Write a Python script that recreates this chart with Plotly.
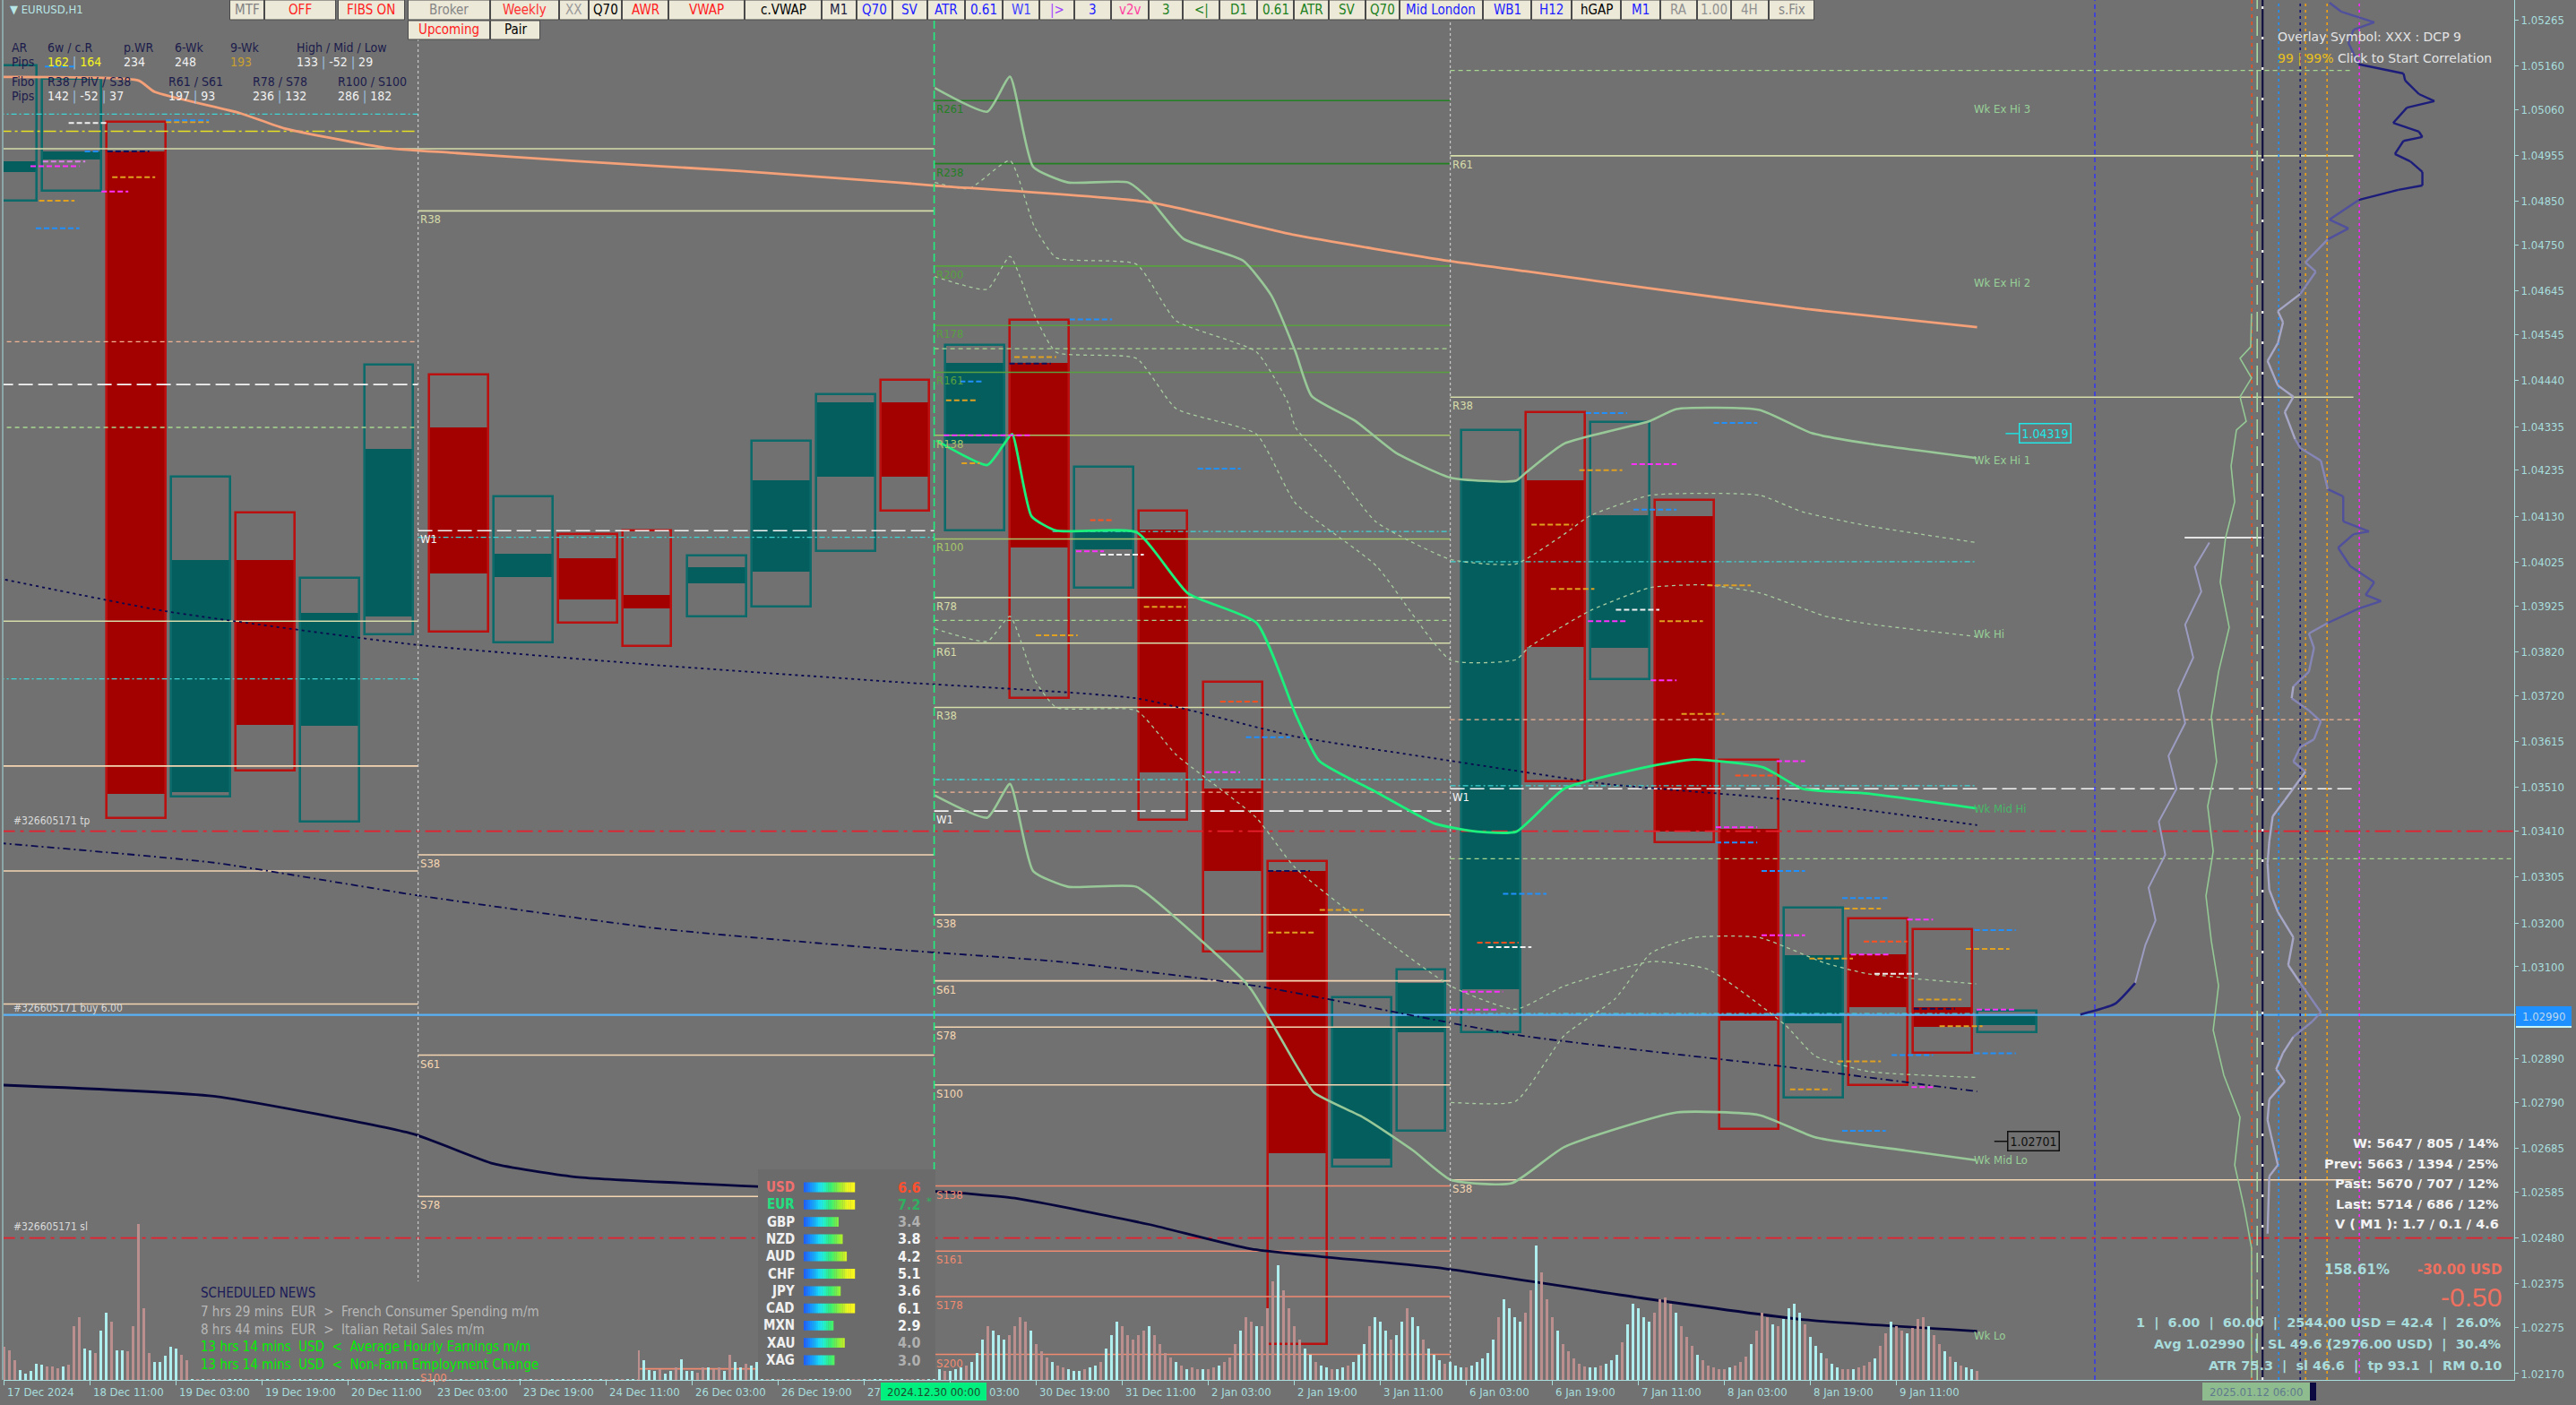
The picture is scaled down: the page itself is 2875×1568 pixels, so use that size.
import plotly.graph_objects as go

# ============================ DATA ============================
symbol_title = "\u25bc EURUSD,H1"

price_labels = ["1.05265", "1.05160", "1.05060", "1.04955", "1.04850", "1.04750",
                "1.04645", "1.04545", "1.04440", "1.04335", "1.04235", "1.04130",
                "1.04025", "1.03925", "1.03820", "1.03720", "1.03615", "1.03510",
                "1.03410", "1.03305", "1.03200", "1.03100", "1.02990", "1.02890",
                "1.02790", "1.02685", "1.02585", "1.02480", "1.02375", "1.02275", "1.02170"]

# visible time-axis texts (one every 16 H1 bars; two are partly covered by the highlight box)
time_labels = ["17 Dec 2024", "18 Dec 11:00", "19 Dec 03:00", "19 Dec 19:00", "20 Dec 11:00",
               "23 Dec 03:00", "23 Dec 19:00", "24 Dec 11:00", "26 Dec 03:00", "26 Dec 19:00",
               "27", "03:00", "30 Dec 19:00", "31 Dec 11:00", "2 Jan 03:00",
               "2 Jan 19:00", "3 Jan 11:00", "6 Jan 03:00", "6 Jan 19:00", "7 Jan 11:00",
               "8 Jan 03:00", "8 Jan 19:00", "9 Jan 11:00"]
BARS_PER_LABEL = 16
highlight_time = "2024.12.30 00:00"
cursor_time = "2025.01.12 06:00"

# H12 boxes on the H1 bar axis (first bar, last bar) with OHLC
box_start = [-5, 7, 19, 31, 43, 55, 67, 79, 91, 103, 115, 127, 139, 151, 163, 175,
             187, 199, 211, 223, 235, 247, 259, 271, 283, 295, 307, 319, 331, 343, 355, 367]
box_end = [6, 18, 30, 42, 54, 66, 76, 90, 102, 114, 124, 138, 150, 162, 172, 186,
           198, 210, 220, 234, 246, 258, 268, 282, 294, 306, 318, 330, 342, 354, 366, 378]
box_open = [1.04916, 1.04946, 1.04964, 1.03500, 1.04029, 1.03650, 1.03901, 1.04333,
            1.03991, 1.04033, 1.03950, 1.03976, 1.04003, 1.04221, 1.04390, 1.04296,
            1.04480, 1.04055, 1.04100, 1.03507, 1.03319, 1.02661, 1.02951, 1.03048,
            1.04213, 1.03830, 1.04130, 1.03415, 1.02970, 1.03128, 1.03007, 1.02966]
box_high = [1.05160, 1.05130, 1.05032, 1.04221, 1.04138, 1.03988, 1.04476, 1.04454,
            1.04176, 1.04089, 1.04097, 1.04040, 1.04303, 1.04408, 1.04442, 1.04521,
            1.04579, 1.04243, 1.04142, 1.03751, 1.03341, 1.03030, 1.03094, 1.04326,
            1.04367, 1.04345, 1.04168, 1.03573, 1.03236, 1.03210, 1.03185, 1.02999]
box_low = [1.04852, 1.04874, 1.03439, 1.03490, 1.03548, 1.03432, 1.03860, 1.03867,
           1.03841, 1.03886, 1.03834, 1.03901, 1.03924, 1.04051, 1.04142, 1.04097,
           1.03715, 1.03966, 1.03435, 1.03135, 1.02237, 1.02643, 1.02725, 1.02951,
           1.03523, 1.03758, 1.03385, 1.02729, 1.02800, 1.02830, 1.02903, 1.02951]
box_close = [1.04942, 1.04964, 1.03496, 1.04029, 1.03653, 1.03909, 1.04284, 1.03999,
             1.04044, 1.03939, 1.03920, 1.04014, 1.04213, 1.04390, 1.04221, 1.04480,
             1.04059, 1.04095, 1.03545, 1.03319, 1.02673, 1.02962, 1.03063, 1.04213,
             1.03831, 1.04132, 1.03409, 1.02977, 1.03127, 1.03007, 1.02962, 1.02990]

# H1 tick volume per trading day
vol_17dec = [1850, 1650, 1100, 550, 350]
vol_18dec = [500, 900, 850, 750, 750, 650, 750, 850, 3000, 3500, 1750, 1650, 1500, 2750, 3750, 3250, 1650, 1650, 1600, 3000, 8700, 4000, 1500, 1000]
vol_19dec = [1000, 1350, 1850, 1750, 1400, 1100, 1100, 1200, 1800, 2600, 3000, 2800, 2500, 2300, 2400, 2800, 3200, 2900, 2500, 2000, 1700, 1400, 1100, 900]
vol_20dec = [800, 600, 500, 500, 600, 700, 800, 900, 1500, 2200, 2600, 2400, 2100, 2000, 2200, 2600, 3000, 2800, 2300, 1900, 1600, 1300, 1000, 700]
vol_23dec = [400, 400, 350, 350, 400, 500, 600, 700, 1100, 1500, 1700, 1600, 1400, 1300, 1400, 1600, 1800, 1600, 1400, 1100, 900, 700, 600, 500]
vol_24dec = [300, 300, 300, 300, 300, 400, 400, 500, 700, 900, 1000, 900, 800, 700, 700, 800, 700, 1650, 1100, 550, 500, 600, 350, 500]
vol_26dec = [700, 1150, 500, 500, 400, 700, 700, 600, 700, 500, 1400, 1000, 700, 900, 800, 1000, 1500, 1400, 1200, 1000, 800, 600, 500, 400]
vol_27dec = [300, 300, 300, 300, 350, 400, 500, 600, 900, 1200, 1400, 1300, 1100, 1000, 1100, 1300, 1500, 1300, 1100, 900, 700, 600, 500, 400]
vol_30dec = [700, 600, 500, 500, 600, 700, 800, 1000, 1500, 2250, 3000, 2750, 2500, 2250, 2500, 3000, 3500, 3250, 2750, 2000, 1600, 1250, 1000, 800]
vol_31dec = [700, 600, 500, 500, 600, 700, 800, 1000, 1750, 2500, 3250, 3000, 2500, 2250, 2500, 2750, 3000, 2500, 2000, 1500, 1250, 1000, 800, 600]
vol_02jan = [700, 600, 600, 600, 700, 800, 1000, 1250, 2000, 2750, 3500, 3250, 3000, 3000, 4000, 5500, 6400, 5000, 4000, 3000, 2250, 1750, 1400, 1000]
vol_03jan = [800, 700, 600, 600, 700, 800, 1000, 1400, 2000, 3000, 3500, 3250, 2750, 2250, 2500, 3250, 4000, 3500, 3000, 2250, 1750, 1400, 1100, 900]
vol_06jan = [1000, 800, 700, 700, 800, 1000, 1200, 1500, 2250, 3500, 4500, 4000, 3500, 3250, 3750, 5000, 7500, 6000, 4500, 3500, 2750, 2000, 1600, 1200]
vol_07jan = [900, 750, 700, 700, 800, 900, 1100, 1400, 2100, 3100, 4250, 4000, 3500, 3250, 3750, 4500, 4600, 4250, 3750, 3000, 2400, 1900, 1400, 1100]
vol_08jan = [800, 700, 600, 600, 700, 800, 1000, 1300, 2000, 2750, 3750, 3500, 3100, 3000, 3400, 4000, 4250, 3750, 3100, 2400, 1900, 1500, 1200, 900]
vol_09jan = [700, 600, 600, 600, 700, 800, 1000, 1200, 1900, 2600, 3250, 3000, 2750, 2600, 2900, 3400, 3500, 3000, 2500, 2000, 1600, 1300, 1000, 800]
vol_10jan = [700, 600, 500]
volume = (vol_17dec + vol_18dec + vol_19dec + vol_20dec + vol_23dec + vol_24dec + vol_26dec +
          vol_27dec + vol_30dec + vol_31dec + vol_02jan + vol_03jan + vol_06jan + vol_07jan +
          vol_08jan + vol_09jan + vol_10jan)
# c = up bar (pale turquoise), r = down bar (rosy brown)
volume_dir = ("rrrcc" + "cccrrrcrrrccrccrccrrrrrc" + "ccccrr" + "crcrcrrcccrrcrcrcr" +
              "rccrcrccrccrcrrcrccrcrcc" + "crrcrcrrcrrcrcrrcrrcrcrr" + "rcrcrcrccrcrrcrcc" + "rcccrcc" +
              "rcccrrcrrcrccrcc" + "crcrcrcr" + "rccrcrcrcrrcrccrcrcrrcrc" +
              "ccrcccrcccrcccrrrrcrrrcr" + "rcccrccrcccrrrrrcrrrrcrc" + "rrcrrcrrrcrrcrrrcrrrrccr" +
              "ccrccrcccrcccrccrccrcccr" + "cccrcccccrccccrrcrrrcrrr" + "rrccrcccrcccccrrrrcrrrcr" +
              "rrrrcrrrcrrrcrccccrcccrc" + "crrcrrrcrrcrrcrrrcrrcrcr" + "ccr")

# slow moving average (salmon)
ma_slow_bar = [-1, 25, 28, 44, 52, 71, 83, 106, 137, 166, 173, 213, 240, 269, 283, 305, 335, 367]
ma_slow_price = [1.05134, 1.05126, 1.05100, 1.05051, 1.05017, 1.04972, 1.04961, 1.04942, 1.04919,
                 1.04893, 1.04886, 1.04848, 1.04773, 1.04713, 1.04690, 1.04653, 1.04604, 1.04562]
# dark navy long average
ma_navy_bar = [-1, 39, 76, 91, 106, 140, 174, 188, 213, 232, 268, 305, 335, 367]
ma_navy_price = [1.02830, 1.02804, 1.02718, 1.02650, 1.02620, 1.02598, 1.02586, 1.02571,
                 1.02511, 1.02455, 1.02410, 1.02342, 1.02293, 1.02267]
# navy dotted average
ma_dot_bar = [-1, 30, 76, 122, 166, 211, 240, 269, 298, 330, 367]
ma_dot_price = [1.03988, 1.03913, 1.03837, 1.03789, 1.03751, 1.03713, 1.03627, 1.03571,
                1.03518, 1.03484, 1.03424]
# navy dash-dot average
ma_dd_bar = [-1, 39, 77, 122, 166, 196, 233, 282, 331, 367]
ma_dd_price = [1.03383, 1.03338, 1.03263, 1.03187, 1.03139, 1.03112, 1.03056, 1.02943, 1.02872, 1.02815]
# bright green weekly mid line
mid_bar = [173.4, 182.9, 185.6, 187.5, 191.1, 195.7, 210.7, 220.2, 233, 240.4, 244.6, 255.3, 266,
           274, 281.3, 290.2, 306.4, 314.3, 327.2, 334.5, 346.7, 366.9]
mid_price = [1.04303, 1.04247, 1.04288, 1.04318, 1.04130, 1.04097, 1.04093, 1.03954, 1.03886,
             1.03672, 1.03571, 1.03499, 1.03428, 1.03409, 1.03409, 1.03507, 1.03559, 1.03574,
             1.03556, 1.03507, 1.03496, 1.03462]
# pale green solid envelope (upper: Wk Ex Hi 1, lower: Wk Mid Lo)
env_up_bar = [173.1, 182.9, 187.1, 191.4, 197.9, 209.1, 213.4, 219.4, 230.5, 235.7, 240.2, 243.2,
              251.3, 258.9, 269.1, 281.2, 283.3, 290.2, 306.2, 311.1, 326.5, 336.2, 346.7, 366.9]
env_up_price = [1.05109, 1.05055, 1.05135, 1.04929, 1.04893, 1.04893, 1.04850, 1.04764, 1.04714,
                1.04635, 1.04506, 1.04405, 1.04348, 1.04275, 1.04218, 1.04211, 1.04232, 1.04296,
                1.04348, 1.04375, 1.04373, 1.04320, 1.04296, 1.04263]
env_lo_bar = [173.1, 182.9, 187.1, 191.4, 197.9, 210.6, 218.0, 231.5, 240.7, 243.7, 252.9, 262.1,
              269.1, 280.4, 290.2, 311.1, 326.5, 336.9, 353.7, 366.8]
env_lo_price = [1.03492, 1.03441, 1.03518, 1.03319, 1.03283, 1.03283, 1.03211, 1.03056, 1.02868,
                1.02812, 1.02755, 1.02680, 1.02613, 1.02605, 1.02688, 1.02767, 1.02761, 1.02710,
                1.02680, 1.02658]
# pale green dashed bands
band1_bar = [173.1, 179.5, 187.1, 191.6, 195.7, 210.6, 218.0, 232.9, 238.8, 240.2, 247.7, 255.2,
             269.1, 281.2, 290.2, 295.0, 306.3, 326.5, 334.5, 346.7, 366.8]
band1_price = [1.04893, 1.04879, 1.04943, 1.04793, 1.04721, 1.04706, 1.04577, 1.04506, 1.04390,
               1.04333, 1.04232, 1.04117, 1.04031, 1.04021, 1.04089, 1.04131, 1.04178, 1.04178,
               1.04140, 1.04108, 1.04070]
band2_bar = [173.1, 182.9, 187.1, 191.6, 195.7, 210.6, 218.0, 232.9, 240.2, 255.2, 269.1, 281.2,
             283.7, 295.0, 306.3, 316.8, 326.5, 338.6, 346.7, 366.8]
band2_price = [1.04678, 1.04649, 1.04724, 1.04591, 1.04505, 1.04491, 1.04376, 1.04318, 1.04160,
               1.04017, 1.03801, 1.03802, 1.03831, 1.03914, 1.03967, 1.03973, 1.03955, 1.03902,
               1.03884, 1.03855]
band3_bar = [173.1, 182.9, 187.1, 191.6, 195.7, 210.6, 218.0, 232.9, 240.2, 269.1, 281.2, 290.2,
             306.4, 317.0, 331.3, 336.9, 346.7, 366.8]
band3_price = [1.03873, 1.03844, 1.03901, 1.03758, 1.03693, 1.03686, 1.03585, 1.03441, 1.03326,
               1.03056, 1.03003, 1.03056, 1.03112, 1.03094, 1.02967, 1.02896, 1.02861, 1.02847]
band4_bar = [269.1, 281.2, 290.2, 299.6, 306.3, 314.3, 326.5, 338.6, 346.7, 366.8]
band4_price = [1.02790, 1.02793, 1.02943, 1.03026, 1.03131, 1.03167, 1.03167, 1.03109, 1.03084, 1.03061]

# horizontal levels: price, first bar, last bar, style, label
lvl_price = [1.05049, 1.05010, 1.04970, 1.04529, 1.04431, 1.04333, 1.03890, 1.03758, 1.03559, 1.03319, 1.03015,
             1.04828, 1.04097, 1.04082, 1.03356, 1.02898, 1.02575, 1.02181,
             1.05080, 1.04936, 1.04702, 1.04566, 1.04459, 1.04315, 1.04078, 1.03944, 1.03840, 1.03693,
             1.03456, 1.03219, 1.03068, 1.02962, 1.02830, 1.02599, 1.02450, 1.02346, 1.02214,
             1.04513, 1.03892, 1.04095, 1.03528, 1.03499,
             1.05149, 1.04954, 1.04402, 1.04026, 1.03665, 1.03514, 1.03507, 1.03347, 1.02993, 1.02613,
             1.03410, 1.02480, 1.02990, 1.04081]
lvl_from = [-1, -1, -1, -1, -1, -1, -1, -1, -1, -1, -1,
            77, 77, 77, 77, 77, 77, 77,
            173, 173, 173, 173, 173, 173, 173, 173, 173, 173, 173, 173, 173, 173, 173, 173, 173, 173, 173,
            173, 173, 195, 173, 173,
            269, 269, 269, 269, 269, 269, 269, 269, 269, 269,
            -1, -1, -1, 405.6]
lvl_to = [77, 77, 173, 77, 77, 77, 77, 77, 77, 77, 77,
          173, 173, 173, 173, 173, 173, 173,
          269, 269, 269, 269, 269, 269, 269, 269, 269, 269, 269, 269, 269, 269, 269, 269, 269, 269, 269,
          269, 269, 269, 269, 269,
          437, 437, 437, 367, 438, 367, 437, 467, 367, 437,
          467, 467, 467, 420.4]
lvl_style = ["cyan_dd", "yellow_dd", "pale", "peach_dash", "white_ld", "green_dash", "pale", "cyan_dd", "wheat", "wheat", "wheat",
             "pale", "white_ld", "cyan_dd", "wheat", "wheat", "wheat", "salmon",
             "green_dk", "green_dk", "green", "green", "green", "olive", "olive", "pale", "pale", "pale",
             "white_ld", "wheat", "wheat", "wheat", "wheat", "salmon", "salmon", "salmon", "salmon",
             "green_dash", "green_dash", "cyan_dd", "cyan_dd", "peach_dash",
             "green_dash", "pale", "pale", "cyan_dd", "peach_dash", "cyan_dd", "white_ld", "green_dash", "cyan_dd", "wheat",
             "red_dd", "red_dd", "price", "poc"]
lvl_label = ["", "", "", "", "", "", "", "", "", "", "",
             "R38", "W1", "", "S38", "S61", "S78", "S100",
             "R261", "R238", "R200", "R178", "R161", "R138", "R100", "R78", "R61", "R38",
             "W1", "S38", "S61", "S78", "S100", "S138", "S161", "S178", "S200",
             "", "", "", "", "",
             "", "R61", "R38", "", "", "", "W1", "", "", "S38",
             "", "", "", ""]

# short H12 marker dashes: first bar, last bar, price, colour key
sd_x0 = [12, 30.1, 30.1, 7.2, 4.9, 15, 19.2, 20.1, 18.1, 6.5, 5.9, 7.6,
         175.2, 177.8, 198.2, 187.9, 187, 174.8, 178.1, 203.9, 199.4, 202, 212, 191.9, 222, 223.6, 231, 226.2, 244.7, 235.1, 235.1,
         294.2, 318, 293, 302.7, 303.1, 284.1, 287.7, 299.8, 294.6, 307.9, 316.8, 306.3, 312, 322, 329.7, 318.4, 318.4, 326.9,
         278.8, 274, 276, 271.2, 269.1, 341.9, 342.3, 326.9, 345.9, 343.5, 347.9, 354, 366.5, 364.9, 356, 355.2, 366.9, 360,
         366.5, 335.8, 351.1, 341.1, 332.2, 341.9, 354.8]
sd_x1 = [19.2, 38.1, 38.1, 15.1, 14, 17.6, 27, 28.1, 23.1, 13.1, 14, 13.1,
         181.2, 181.9, 206.1, 195.7, 194.7, 191.2, 181.5, 212, 204.6, 206.5, 219.8, 199.7, 230, 229.9, 239.2, 233.6, 252.9, 244, 242.9,
         301.9, 326.1, 301, 311.1, 311.1, 291.8, 295.8, 307.9, 301.9, 316, 324.9, 311.1, 320, 329.7, 335, 326.1, 326.1, 335,
         286.9, 281.7, 284.1, 278.8, 278, 350.3, 349.1, 335, 354, 350.7, 356, 358.8, 374.2, 373, 364.1, 362.9, 374.2, 368,
         374.2, 343.9, 358.8, 349.1, 339.8, 350, 358.8]
sd_price = [1.05029, 1.05031, 1.05035, 1.04941, 1.04930, 1.04964, 1.04964, 1.04905, 1.04872, 1.04851, 1.04788, 1.05158,
            1.04395, 1.04438, 1.04580, 1.04494, 1.04479, 1.04315, 1.04251, 1.04042, 1.04050, 1.04121, 1.03923, 1.03858, 1.04239, 1.03545, 1.03625, 1.03706, 1.03230, 1.03178, 1.03319,
            1.04366, 1.04343, 1.04235, 1.04249, 1.04145, 1.04111, 1.03964, 1.03916, 1.03890, 1.03890, 1.03972, 1.03755, 1.03678, 1.03537, 1.03570, 1.03419, 1.03384, 1.03319,
            1.03267, 1.03155, 1.03145, 1.03043, 1.03002, 1.03257, 1.03233, 1.03172, 1.03158, 1.03128, 1.03084, 1.03208, 1.03184, 1.03141, 1.03025, 1.03004, 1.03002, 1.02964,
            1.02902, 1.03119, 1.02898, 1.02884, 1.02820, 1.02725, 1.02825]
sd_color = ["white", "orange", "blue", "violet", "magenta", "blue", "navy", "orange", "magenta", "orange", "blue", "blue",
            "orange", "blue", "blue", "orange", "navy", "magenta", "orange", "white", "magenta", "orangered", "orange", "orange", "blue", "magenta", "blue", "orangered", "orange", "orange", "navy",
            "blue", "blue", "orange", "magenta", "blue", "orange", "orange", "white", "magenta", "orange", "orange", "magenta", "orange", "orangered", "magenta", "magenta", "blue", "blue",
            "blue", "orangered", "white", "magenta", "magenta", "blue", "orange", "magenta", "orangered", "magenta", "white", "magenta", "blue", "orange", "orange", "navy", "magenta", "orange",
            "blue", "orange", "blue", "orange", "orange", "blue", "magenta"]

# vertical markers (bar index) and style
vline_bar = [77, 173, 269, 388.9, 418.1, 419.1, 420.1, 423.1, 427.1, 428.1, 432.1, 438.1]
vline_style = ["sep", "sep_green", "sep", "blue_dash", "orangered_dash", "palegreen_ld", "navy_solid",
               "dodger_dot", "navy_dot", "orange_dot", "orange_dot", "magenta_dot"]

# main volume profile (price, relative volume)
vp_price = [1.05304, 1.05283, 1.05259, 1.05242, 1.05212, 1.05163, 1.05142, 1.05126, 1.05095, 1.05079,
            1.05064, 1.05029, 1.05009, 1.04997, 1.04988, 1.04958, 1.04941, 1.04917, 1.04886, 1.04876,
            1.04853, 1.04808, 1.04788, 1.04763, 1.04710, 1.04689, 1.04638, 1.04599, 1.04573, 1.04526,
            1.04485, 1.04429, 1.04403, 1.04368, 1.04306, 1.04286, 1.04257, 1.04192, 1.04175, 1.04118,
            1.04095, 1.04089, 1.04058, 1.04016, 1.03979, 1.03950, 1.03936, 1.03919, 1.03886, 1.03862,
            1.03829, 1.03774, 1.03741, 1.03714, 1.03686, 1.03661, 1.03620, 1.03602, 1.03569, 1.03546,
            1.03481, 1.03444, 1.03387, 1.03336, 1.03276, 1.03225, 1.03167, 1.03104, 1.03063, 1.02996,
            1.02975, 1.02940, 1.02903, 1.02866, 1.02838, 1.02797, 1.02750, 1.02715, 1.02647, 1.02621, 1.02490]
vp_value = [39, 46, 65, 53, 50, 56, 82, 83, 91, 100, 84, 76, 91, 93, 82, 77, 86, 93, 93, 79,
            56, 39, 50, 38, 25, 31, 22, 9, 12, 9, 3, 9, 18, 13, 19, 22, 34, 38, 47, 47,
            62, 53, 44, 51, 65, 60, 69, 56, 38, 27, 30, 27, 18, 17, 27, 34, 30, 22, 18, 25,
            13, 6, 4, 3, 4, 9, 18, 15, 22, 34, 29, 18, 12, 8, 13, 4, 3, 5, 9, 4, 3]
# second (green) profile, drawn leftwards from its anchor
gp_price = [1.04593, 1.04517, 1.04491, 1.04446, 1.04403, 1.04347, 1.04327, 1.04245, 1.04163, 1.04081,
            1.03979, 1.03876, 1.03774, 1.03671, 1.03569, 1.03467, 1.03364, 1.03262, 1.03159, 1.03057,
            1.02955, 1.02852, 1.02756, 1.02647, 1.02545, 1.02457, 1.02381, 1.02238, 1.02160]
gp_value = [-6.3, -6.8, -13, -6.3, -13, -9.4, -15.1, -18.2, -16.1, -21.4,
            -24.5, -19.3, -25.5, -29.7, -26.6, -31.8, -28.6, -32.8, -29.7, -25.5,
            -28.6, -22.4, -13, -16.1, -10.4, -6.3, -6.3, -6.3, -6.3]
# session profile rising from the current price (navy stub, then lavender outline)
proj_bar = [386.2, 392.6, 396.4]
proj_price = [1.02991, 1.03015, 1.03063]
sess_bar = [396.4, 398.3, 400.2, 398.9, 402.0, 400.8, 404.1, 402.6, 405.7, 404.4, 407.2, 405.7, 408.7, 407.5, 410.2]
sess_price = [1.03063, 1.03150, 1.03206, 1.03281, 1.03356, 1.03432, 1.03507, 1.03582, 1.03657, 1.03732,
              1.03807, 1.03882, 1.03958, 1.04014, 1.04070]

wk_label_text = ["Wk Ex Hi 3", "Wk Ex Hi 2", "Wk Ex Hi 1", "Wk Hi", "Wk Mid Hi", "Wk Mid Lo", "Wk Lo"]
wk_label_price = [1.05062, 1.04664, 1.04258, 1.03860, 1.03462, 1.02658, 1.02256]
wk_label_bar = 366.3

price_tags = ["1.04319", "1.02701"]
price_tag_bar = [374.7, 372.6]

trade_labels = ["#326605171 tp", "#326605171 buy 6.00", "#326605171 sl"]
trade_label_price = [1.03434, 1.03005, 1.02505]

currency_names = ["USD", "EUR", "GBP", "NZD", "AUD", "CHF", "JPY", "CAD", "MXN", "XAU", "XAG"]
currency_strength = [6.6, 7.2, 3.4, 3.8, 4.2, 5.1, 3.6, 6.1, 2.9, 4.0, 3.0]

news_title = "SCHEDULED NEWS"
news_lines = ["7 hrs 29 mins  EUR  &gt;  French Consumer Spending m/m",
              "8 hrs 44 mins  EUR  &gt;  Italian Retail Sales m/m",
              "13 hrs 14 mins  USD  &lt;  Average Hourly Earnings m/m",
              "13 hrs 14 mins  USD  &lt;  Non-Farm Employment Change"]
news_upcoming = [False, False, True, True]

stats_lines = ["W: 5647 / 805 / 14%", "Prev: 5663 / 1394 / 25%", "Past: 5670 / 707 / 12%",
               "Last: 5714 / 686 / 12%", "V ( M1 ): 1.7 / 0.1 / 4.6"]
account_lines = ["1  |  6.00  |  60.00  |  2544.00 USD = 42.4  |  26.0%",
                 "Avg 1.02990  |  SL 49.6 (2976.00 USD)  |  30.4%",
                 "ATR 75.3  |  sl 46.6  |  tp 93.1  |  RM 0.10"]
margin_pct = "158.61%"
profit_usd = "-30.00 USD"
profit_pips = "-0.50"

buttons_row1 = [("MTF", 256, 295, "#808080"), ("OFF", 295, 375, "#ff2020"), ("FIBS ON", 377, 452, "#ff2020"),
                ("Broker", 455, 547, "#858585"), ("Weekly", 547, 624, "#ff3030"), ("XX", 624, 657, "#9a9a9a"),
                ("Q70", 657, 694, "#000000"), ("AWR", 694, 746, "#ff2020"), ("VWAP", 746, 831, "#ff2020"),
                ("c.VWAP", 831, 917, "#000000"), ("M1", 917, 956, "#202040"), ("Q70", 956, 996, "#2020ff"),
                ("SV", 996, 1035, "#2020ff"), ("ATR", 1035, 1077, "#2020ff"), ("0.61", 1077, 1119, "#2020ff"),
                ("W1", 1119, 1160, "#4040ff"), ("|&gt;", 1160, 1199, "#a040ff"), ("3", 1199, 1240, "#2020ff"),
                ("v2v", 1240, 1282, "#ff40a0"), ("3", 1282, 1320, "#208020"), ("&lt;|", 1320, 1361, "#208020"),
                ("D1", 1361, 1403, "#208020"), ("0.61", 1403, 1444, "#208020"), ("ATR", 1444, 1483, "#208020"),
                ("SV", 1483, 1524, "#208020"), ("Q70", 1524, 1562, "#208020"), ("Mid London", 1562, 1655, "#2020ff"),
                ("WB1", 1655, 1709, "#2020ff"), ("H12", 1709, 1754, "#2020ff"), ("hGAP", 1754, 1809, "#000000"),
                ("M1", 1809, 1853, "#2020ff"), ("RA", 1853, 1894, "#909090"), ("1.00", 1894, 1932, "#909090"),
                ("4H", 1932, 1974, "#909090"), ("s.Fix", 1974, 2025, "#858585")]
buttons_row2 = [("Upcoming", 455, 547, "#ff2020"), ("Pair", 547, 603, "#000000")]

SEP = "<span style='color:#9cc4e4'>|</span>"
info_rows = [
    [("AR", 12, "#1c1c4c"), ("6w / c.R", 52, "#1c1c4c"), ("p.WR", 137, "#1c1c4c"), ("6-Wk", 194, "#1c1c4c"),
     ("9-Wk", 256, "#1c1c4c"), ("High / Mid / Low", 330, "#1c1c4c")],
    [("Pips", 12, "#1c1c4c"),
     ("<span style='color:#f4f420'>162</span> " + SEP + " <span style='color:#f4f420'>164</span>", 52, "#f0f0f0"),
     ("234", 137, "#f0f0f0"), ("248", 194, "#f0f0f0"), ("193", 256, "#c8a030"),
     ("133 " + SEP + " -52 " + SEP + " 29", 330, "#f0f0f0")],
    [("Fibo", 12, "#1c1c4c"), ("R38 / PIV / S38", 52, "#1c1c4c"), ("R61 / S61", 187, "#1c1c4c"),
     ("R78 / S78", 281, "#1c1c4c"), ("R100 / S100", 376, "#1c1c4c")],
    [("Pips", 12, "#1c1c4c"), ("142 " + SEP + " -52 " + SEP + " 37", 52, "#f0f0f0"),
     ("197 " + SEP + " 93", 187, "#f0f0f0"), ("236 " + SEP + " 132", 281, "#f0f0f0"),
     ("286 " + SEP + " 182", 376, "#f0f0f0")],
]
info_row_y = [53, 69, 91, 107]

# ============================ LAYOUT GEOMETRY / STYLE ============================
W, H = 2875, 1568
ML, MR, MT, MB = 4, 69, 0, 28
PW, PH = W - ML - MR, H - MT - MB
BAR_PX, BAR0_PX = 6.0, 4.6            # px per H1 bar, px of bar 0
PRICE_REF, PRICE_REF_PX, PX_PER_PRICE = 1.05265, 22.0, 48820.0
X_RANGE = [(ML - BAR0_PX) / BAR_PX, (ML + PW - BAR0_PX) / BAR_PX]
Y_RANGE = [PRICE_REF - (MT + PH - PRICE_REF_PX) / PX_PER_PRICE, PRICE_REF + (PRICE_REF_PX - MT) / PX_PER_PRICE]
VOL_PER_PX = 50.0
VP_ZERO_PX, VP_PX_PER_UNIT = 2525.0, 1.92

BG = "#717171"
AXC = "#a8dede"
FONT = "DejaVu Sans Condensed, Liberation Sans Narrow, Arial Narrow, sans-serif"
FONT_W = "DejaVu Sans, Verdana, sans-serif"
FONT_A = "Liberation Sans, Arial, sans-serif"

UP_FILL, UP_LINE = "#055e5e", "#0d6a6a"
DN_FILL, DN_LINE = "#a30000", "#bb1010"

LEVEL_STYLE = {
    "cyan_dd": ("#3fd6d6", "6px,3px,2px,3px", 1.3),
    "yellow_dd": ("#e6e020", "14px,4px,3px,4px", 1.6),
    "pale": ("#d6dcaa", "solid", 1.6),
    "peach_dash": ("#f2b494", "5px,4px", 1.3),
    "white_ld": ("#f4f4f4", "16px,6px", 1.6),
    "green_dash": ("#a8d890", "5px,4px", 1.3),
    "wheat": ("#f5d6b2", "solid", 1.6),
    "salmon": ("#f08a70", "solid", 1.6),
    "green_dk": ("#238023", "solid", 1.6),
    "green": ("#58a040", "solid", 1.6),
    "olive": ("#a6c46a", "solid", 1.6),
    "red_dd": ("#e8202e", "18px,6px,4px,6px", 1.6),
    "price": ("#58b2f8", "solid", 2.2),
    "poc": ("#e4e4e4", "solid", 2.0),
}
SD_COLOR = {"white": "#f0f0f0", "orange": "#e0a020", "blue": "#2090ff", "navy": "#10105a",
            "magenta": "#ff30ff", "violet": "#d880e8", "orangered": "#ff5020"}
VLINE_STYLE = {
    "sep": ("#c8c8c8", "3px,3px", 1.2),
    "sep_green": ("#20f080", "9px,4px", 1.6),
    "blue_dash": ("#3030ff", "5px,4px", 1.4),
    "orangered_dash": ("#e85020", "4px,4px", 1.6),
    "palegreen_ld": ("#a8d8a0", "22px,8px", 1.6),
    "navy_solid": ("#101040", "solid", 2.2),
    "dodger_dot": ("#2090ff", "3px,4px", 1.6),
    "navy_dot": ("#101070", "3px,4px", 1.6),
    "orange_dot": ("#f0a010", "3px,4px", 1.6),
    "magenta_dot": ("#ff20ff", "3px,4px", 1.6),
}


def pxx(xp):
    return (xp - ML) / PW


def pxy(yp):
    return 1 - (yp - MT) / PH


fig = go.Figure()

# ---------------- volume histogram ----------------
vol_colors = [("#afeeee" if (i < len(volume_dir) and volume_dir[i] == "c") else "#bc8f8f")
              for i in range(len(volume))]
fig.add_trace(go.Bar(x=list(range(len(volume))), y=volume, yaxis="y2", width=0.58,
                     marker=dict(color=vol_colors, line=dict(width=0)), hoverinfo="skip"))

# ---------------- horizontal levels ----------------
groups = {}
for p, a, b, s in zip(lvl_price, lvl_from, lvl_to, lvl_style):
    xs, ys = groups.setdefault(s, ([], []))
    xs += [a, b, None]
    ys += [p, p, None]
for s, (xs, ys) in groups.items():
    c, d, w = LEVEL_STYLE[s]
    fig.add_trace(go.Scatter(x=xs, y=ys, mode="lines", line=dict(color=c, dash=d, width=w),
                             hoverinfo="skip"))

# ---------------- bands / averages ----------------
def add_line(xb, yp, color, width, dash="solid", shape="spline", xaxis="x"):
    fig.add_trace(go.Scatter(x=xb, y=yp, mode="lines", xaxis=xaxis,
                             line=dict(color=color, width=width, dash=dash, shape=shape, smoothing=0.5),
                             hoverinfo="skip"))

add_line(band1_bar, band1_price, "#a8cca0", 1.3, "4px,4px")
add_line(band2_bar, band2_price, "#a8cca0", 1.3, "4px,4px")
add_line(band3_bar, band3_price, "#a8cca0", 1.3, "4px,4px")
add_line(band4_bar, band4_price, "#a8cca0", 1.3, "4px,4px")
add_line(env_up_bar, env_up_price, "#98c898", 2.6)
add_line(env_lo_bar, env_lo_price, "#98c898", 2.6)
add_line(ma_slow_bar, ma_slow_price, "#f4a078", 2.8)
add_line(ma_navy_bar, ma_navy_price, "#06063c", 2.8)
add_line(ma_dot_bar, ma_dot_price, "#0a0a50", 1.8, "3px,4px")
add_line(ma_dd_bar, ma_dd_price, "#0a0a50", 1.8, "8px,4px,2px,4px")

# ---------------- H12 boxes ----------------
centers = [(s + e) / 2 for s, e in zip(box_start, box_end)]
widths = [e - s for s, e in zip(box_start, box_end)]
is_up = [c >= o for o, c in zip(box_open, box_close)]
fig.add_trace(go.Bar(x=centers, width=widths,
                     base=[min(o, c) for o, c in zip(box_open, box_close)],
                     y=[max(abs(c - o), 0.00002) for o, c in zip(box_open, box_close)],
                     marker=dict(color=[UP_FILL if u else DN_FILL for u in is_up], line=dict(width=0)),
                     hoverinfo="skip"))
fig.add_trace(go.Bar(x=centers, width=widths, base=box_low,
                     y=[h - l for h, l in zip(box_high, box_low)],
                     marker=dict(color="rgba(0,0,0,0)",
                                 line=dict(color=[UP_LINE if u else DN_LINE for u in is_up], width=2.6)),
                     hoverinfo="skip"))

# bright green weekly mid (drawn over boxes)
add_line(mid_bar, mid_price, "#1cf07c", 2.8)

# ---------------- short marker dashes ----------------
sd_groups = {}
for a, b, p, c in zip(sd_x0, sd_x1, sd_price, sd_color):
    xs, ys = sd_groups.setdefault(c, ([], []))
    xs += [a, b, None]
    ys += [p, p, None]
for c, (xs, ys) in sd_groups.items():
    fig.add_trace(go.Scatter(x=xs, y=ys, mode="lines",
                             line=dict(color=SD_COLOR[c], width=2, dash="6px,3px"), hoverinfo="skip"))

# ---------------- vertical markers ----------------
for xb, st in zip(vline_bar, vline_style):
    c, d, w = VLINE_STYLE[st]
    fig.add_trace(go.Scatter(x=[xb, xb], y=Y_RANGE, mode="lines", line=dict(color=c, dash=d, width=w),
                             hoverinfo="skip"))
    if st == "navy_solid":
        fig.add_trace(go.Scatter(x=[xb, xb], y=Y_RANGE, mode="lines",
                                 line=dict(color="#f0f0f0", dash="3px,31px", width=2.2), hoverinfo="skip"))

# ---------------- volume profiles ----------------
def vp_color(v):
    if v < 20:
        return "#a6a6c6"
    if v < 40:
        return "#8686b6"
    if v < 65:
        return "#50509c"
    return "#1c1c7a"

vp_groups = {}
for k in range(len(vp_price) - 1):
    col = vp_color((vp_value[k] + vp_value[k + 1]) / 2)
    xs, ys = vp_groups.setdefault(col, ([], []))
    xs += [vp_value[k], vp_value[k + 1], None]
    ys += [vp_price[k], vp_price[k + 1], None]
for col, (xs, ys) in vp_groups.items():
    fig.add_trace(go.Scatter(x=xs, y=ys, xaxis="x3", yaxis="y", mode="lines",
                             line=dict(color=col, width=2.4), hoverinfo="skip"))
fig.add_trace(go.Scatter(x=gp_value, y=gp_price, xaxis="x3", yaxis="y", mode="lines",
                         line=dict(color="#94c894", width=1.6), hoverinfo="skip"))
fig.add_trace(go.Scatter(x=sess_bar, y=sess_price, mode="lines",
                         line=dict(color="#9c9cc2", width=2.0), hoverinfo="skip"))
add_line(proj_bar, proj_price, "#1c1c7a", 2.6)

# price tag stubs
for t, xb in zip(price_tags, price_tag_bar):
    fig.add_trace(go.Scatter(x=[xb - 2.4, xb], y=[float(t), float(t)], mode="lines",
                             line=dict(color="#20e0e0" if t == "1.04319" else "#101010", width=1.5),
                             hoverinfo="skip"))

# invisible anchor for the currency strength axes
fig.add_trace(go.Scatter(x=[0], y=[0], xaxis="x5", yaxis="y5", mode="markers",
                         marker=dict(opacity=0), hoverinfo="skip"))

# ============================ SHAPES ============================
shapes = []
shapes.append(dict(type="line", xref="paper", yref="paper", x0=pxx(3), x1=pxx(3), y0=pxy(0), y1=pxy(1540),
                   line=dict(color=AXC, width=1)))
# news panel & currency panel backgrounds (hide what lies below)
shapes.append(dict(type="rect", xref="paper", yref="paper", x0=pxx(212), x1=pxx(712), y0=pxy(1539),
                   y1=pxy(1430), fillcolor=BG, line=dict(width=0), layer="above"))
shapes.append(dict(type="rect", xref="paper", yref="paper", x0=pxx(846), x1=pxx(1044), y0=pxy(1539),
                   y1=pxy(1305), fillcolor="#6b6b6b", line=dict(width=0), layer="above"))

# currency strength gradient bars (value axis x5, row axis y5)
GRAD = [(0.0, (30, 90, 255)), (1.0, (20, 170, 255)), (1.7, (30, 235, 240)), (2.6, (50, 240, 120)),
        (3.6, (160, 240, 50)), (4.4, (245, 245, 30)), (5.0, (250, 250, 30))]

def grad_color(v):
    for (a, ca), (b, cb) in zip(GRAD[:-1], GRAD[1:]):
        if v <= b:
            t = (v - a) / (b - a)
            return "rgb(%d,%d,%d)" % tuple(int(ca[i] + (cb[i] - ca[i]) * t) for i in range(3))
    return "rgb(%d,%d,%d)" % GRAD[-1][1]

STEP = 0.2
for row, v in enumerate(currency_strength):
    L = min(v, 5.0)
    s = 0.0
    while s < L - 1e-9:
        e = min(s + STEP, L)
        shapes.append(dict(type="rect", xref="x5", yref="y5", x0=s, x1=e + 0.02, y0=row - 0.28, y1=row + 0.28,
                           fillcolor=grad_color((s + e) / 2), line=dict(width=0), layer="above"))
        s = e

# toolbar buttons
for row_y0, row_y1, btns in [(0, 22, buttons_row1), (23, 44, buttons_row2)]:
    for lab, x0, x1, col in btns:
        shapes.append(dict(type="rect", xref="paper", yref="paper", x0=pxx(x0 + 0.5), x1=pxx(x1 - 0.5),
                           y0=pxy(row_y1), y1=pxy(row_y0), fillcolor="#ece9d8",
                           line=dict(color="#4a4a4a", width=1), layer="above"))

# axis current price box and time highlight boxes
shapes.append(dict(type="rect", xref="paper", yref="paper", x0=pxx(2808), x1=pxx(2870), y0=pxy(1145),
                   y1=pxy(1123), fillcolor="#1e90ff", line=dict(width=0), layer="above"))
shapes.append(dict(type="line", xref="paper", yref="paper", x0=pxx(2808), x1=pxx(2870), y0=pxy(1146),
                   y1=pxy(1146), line=dict(color="#c8f4f4", width=2), layer="above"))
shapes.append(dict(type="rect", xref="paper", yref="paper", x0=pxx(983), x1=pxx(1101), y0=pxy(1563),
                   y1=pxy(1543), fillcolor="#00f080", line=dict(width=0), layer="above"))
shapes.append(dict(type="rect", xref="paper", yref="paper", x0=pxx(2458), x1=pxx(2578), y0=pxy(1563),
                   y1=pxy(1543), fillcolor="#8fbc8f", line=dict(width=0), layer="above"))
shapes.append(dict(type="rect", xref="paper", yref="paper", x0=pxx(2578), x1=pxx(2585), y0=pxy(1563),
                   y1=pxy(1543), fillcolor="#0a0a40", line=dict(width=0), layer="above"))

# ============================ ANNOTATIONS ============================
ann = []

def text(xp, yp, s, color, size, family=FONT, xanchor="left", yanchor="middle", **kw):
    d = dict(x=pxx(xp), y=pxy(yp), xref="paper", yref="paper", text=s, showarrow=False,
             font=dict(family=family, size=size, color=color), xanchor=xanchor, yanchor=yanchor,
             borderpad=0)
    d.update(kw)
    ann.append(d)

# time axis labels (the one right after the highlight box is shifted out from under it)
for k, lab in enumerate(time_labels):
    xb = k * BARS_PER_LABEL + 0.35
    if k == 11:
        xb = (1103 - BAR0_PX) / BAR_PX
    ann.append(dict(x=xb, y=pxy(1553), xref="x", yref="paper", text=lab,
                    showarrow=False, xanchor="left", yanchor="middle", borderpad=0,
                    font=dict(family=FONT, size=13, color=AXC)))
text(1042, 1553, highlight_time, "#1d4d2d", 13, xanchor="center")
text(2518, 1553, cursor_time, "#5f7a8c", 13, xanchor="center")
text(2839, 1134, "1.02990", "#bcd6ee", 13, xanchor="center")

# level labels
for p, a, s, lab in zip(lvl_price, lvl_from, lvl_style, lvl_label):
    if lab:
        col = LEVEL_STYLE[s][0]
        ann.append(dict(x=a + 0.15, y=p, xref="x", yref="y", text=lab, showarrow=False, xanchor="left",
                        yanchor="top", yshift=-1, borderpad=0, font=dict(family=FONT, size=13, color=col)))

# weekly band labels
for t, p in zip(wk_label_text, wk_label_price):
    col = "#48b868" if t == "Wk Mid Hi" else "#98d098"
    ann.append(dict(x=wk_label_bar, y=p, xref="x", yref="y", text=t, showarrow=False, xanchor="left",
                    yanchor="middle", borderpad=0, font=dict(family=FONT, size=13, color=col)))

# price tags
for t, xb in zip(price_tags, price_tag_bar):
    col = "#20e8e8" if t == "1.04319" else "#101010"
    ann.append(dict(x=xb, y=float(t), xref="x", yref="y", text=t, showarrow=False, xanchor="left",
                    yanchor="middle", borderpad=2, bordercolor=col, borderwidth=1.5,
                    font=dict(family=FONT, size=14, color=col)))

# trade labels
for t, p in zip(trade_labels, trade_label_price):
    ann.append(dict(x=1.6, y=p, xref="x", yref="y", text=t, showarrow=False, xanchor="left",
                    yanchor="middle", borderpad=0, font=dict(family=FONT, size=12, color="#dadada")))

# header
text(10, 11, symbol_title, "#b8e6e6", 13)
for row, yrow in zip(info_rows, info_row_y):
    for s, xp, col in row:
        text(xp, yrow, s, col, 14)

# toolbar labels
for row_y, btns in [(11, buttons_row1), (33.5, buttons_row2)]:
    for lab, x0, x1, col in btns:
        text((x0 + x1) / 2, row_y, lab, col, 15, xanchor="center")

# overlay symbol text
text(2541, 41, "Overlay Symbol: XXX : DCP 9", "#e4e4e4", 14, family=FONT_W)
text(2541, 65, "<span style='color:#e8c020'>99 | 99%</span> Click to Start Correlation", "#e4e4e4", 14,
     family=FONT_W)

# stats block (bottom right)
for k, s in enumerate(stats_lines):
    text(2790, 1276 + k * 22.5, "<b>" + s + "</b>", "#f2f2f2", 14.5, family=FONT_W, xanchor="right")
text(2668, 1417, "<b>" + margin_pct + "</b>", "#a8dcdc", 15, family=FONT_W, xanchor="right")
text(2793, 1417, "<b>" + profit_usd + "</b>", "#f07060", 15, family=FONT_W, xanchor="right")
text(2793, 1447, profit_pips, "#f07060", 30, family=FONT_A, xanchor="right")
for k, s in enumerate(account_lines):
    text(2793, 1476 + k * 24, "<b>" + s.replace("  ", "\u00a0\u00a0") + "</b>", "#a8dcdc", 14.5,
         family=FONT_W, xanchor="right")

# news
text(223, 1443, news_title, "#1a1a58", 15)
for k, (s, up) in enumerate(zip(news_lines, news_upcoming)):
    text(223, 1464 + k * 19.5, s.replace("  ", "\u00a0\u00a0"), "#00f000" if up else "#b8b8b8", 15)

# currency strength panel
for k, (nm, v) in enumerate(zip(currency_names, currency_strength)):
    yrow = 1325 + k * 19.3
    ncol = "#f07070" if nm == "USD" else ("#20e080" if nm == "EUR" else "#f0f0f0")
    text(888, yrow, "<b>" + nm + "</b>", ncol, 15, xanchor="right")
    if nm == "USD":
        vcol = "#ff5030"
    elif nm == "EUR":
        vcol = "#30b060"
    elif nm in ("GBP", "XAU", "XAG"):
        vcol = "#b0b0b0"
    else:
        vcol = "#f4f4f4"
    text(1029, yrow, "<b>%.1f</b>" % v, vcol, 16, xanchor="right")
    if nm == "EUR":
        text(1033, yrow - 4, "*", "#30b060", 13)

fig.update_layout(
    width=W, height=H, margin=dict(l=ML, r=MR, t=MT, b=MB, pad=0),
    paper_bgcolor=BG, plot_bgcolor=BG, showlegend=False, barmode="overlay", bargap=0,
    hovermode=False,
    xaxis=dict(range=X_RANGE, showgrid=False, zeroline=False, showline=True, linecolor=AXC, linewidth=1,
               ticks="outside", ticklen=5, tickcolor=AXC, tickwidth=1,
               tickvals=[k * BARS_PER_LABEL for k in range(len(time_labels))], showticklabels=False),
    yaxis=dict(range=Y_RANGE, side="right", showgrid=False, zeroline=False, showline=True, linecolor=AXC,
               linewidth=1, ticks="outside", ticklen=4, tickcolor=AXC,
               tickvals=[float(t) for t in price_labels], ticktext=price_labels,
               tickfont=dict(family=FONT, size=13, color=AXC)),
    yaxis2=dict(range=[0, PH * VOL_PER_PX], overlaying="y", visible=False),
    xaxis3=dict(range=[(ML - VP_ZERO_PX) / VP_PX_PER_UNIT, (ML + PW - VP_ZERO_PX) / VP_PX_PER_UNIT],
                overlaying="x", anchor="y", visible=False),
    xaxis5=dict(domain=[pxx(897), pxx(897 + 114)], range=[0, 10], anchor="y5", visible=False),
    yaxis5=dict(domain=[pxy(1325 + 10 * 19.3 + 9.65), pxy(1325 - 9.65)], range=[10.5, -0.5],
                anchor="x5", visible=False),
    shapes=shapes, annotations=ann,
)

fig.write_html("out.html", include_plotlyjs=True, full_html=True, config={"displayModeBar": False},
               post_script="document.body.style.margin='0';document.body.style.overflow='hidden';")
